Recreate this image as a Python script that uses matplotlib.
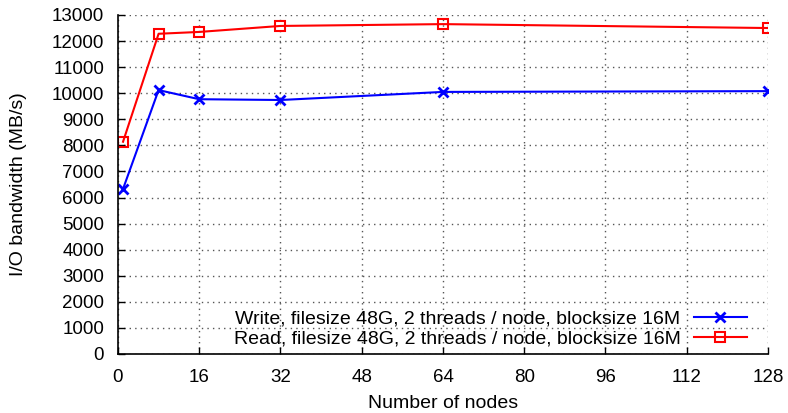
import matplotlib
matplotlib.use('Agg')
import matplotlib.pyplot as plt

plt.rcParams['font.family'] = ['Liberation Sans', 'DejaVu Sans']

nodes = [1, 8, 16, 32, 64, 128]
write_bw = [6330, 10120, 9770, 9740, 10050, 10080]
read_bw = [8140, 12280, 12350, 12580, 12650, 12500]

write_label = 'Write, filesize 48G, 2 threads / node, blocksize 16M'
read_label = 'Read, filesize 48G, 2 threads / node, blocksize 16M'

fig = plt.figure(figsize=(7.88, 4.13), dpi=100)
ax = fig.add_axes([0.1497, 0.1429, 0.8249, 0.8208])

ax.plot(nodes, write_bw, color='#0000ff', lw=1.5, marker='x', ms=7, mew=2,
        label=write_label)
ax.plot(nodes, read_bw, color='#ff0000', lw=1.5, marker='s', ms=7.5, mew=1.5,
        mfc='none', label=read_label)

ax.set_xlim(0, 128)
ax.set_ylim(0, 13000)
ax.set_xticks(range(0, 129, 16))
ax.set_yticks(range(0, 13001, 1000))
ax.tick_params(direction='in', labelsize=13.5, length=5, width=1,
               top=False, right=False)
ax.tick_params(axis='y', pad=10)
ax.tick_params(axis='x', pad=11)

ax.grid(True, linestyle=(0, (1, 3)), color='#555555', lw=1)
ax.spines['top'].set_visible(False)
ax.spines['right'].set_visible(False)
ax.spines['left'].set_linewidth(1.2)
ax.spines['bottom'].set_linewidth(1.2)

ax.set_xlabel('Number of nodes', fontsize=14, labelpad=6)
ax.set_ylabel('I/O bandwidth (MB/s)', fontsize=14, labelpad=18)

ax.legend(loc='lower right', bbox_to_anchor=(0.985, -0.015), frameon=False,
          markerfirst=False, fontsize=14, handlelength=2.7,
          borderpad=0.1, labelspacing=0.1, handletextpad=0.7)

fig.savefig('out.png', dpi=100)
